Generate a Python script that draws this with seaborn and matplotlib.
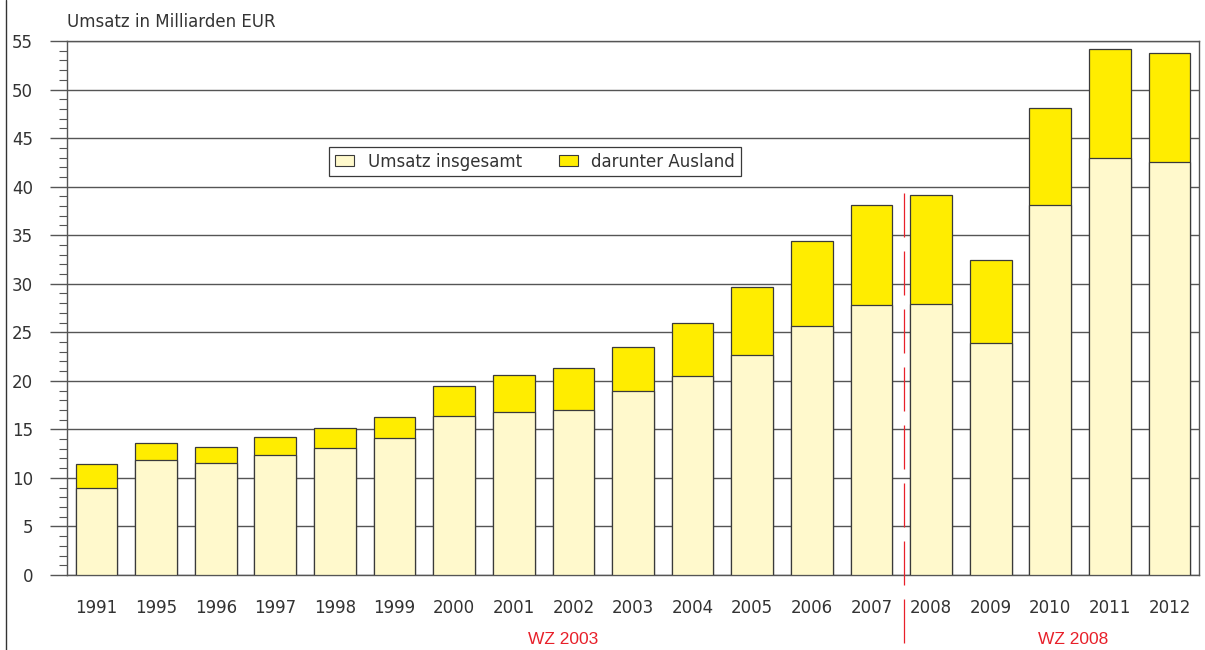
import matplotlib
matplotlib.use("Agg")
import matplotlib.pyplot as plt
from matplotlib.patches import Patch
from matplotlib.ticker import MultipleLocator
from matplotlib.lines import Line2D
import seaborn as sns
import pandas as pd

# ---- data ----
jahre = ["1991", "1995", "1996", "1997", "1998", "1999", "2000", "2001", "2002",
         "2003", "2004", "2005", "2006", "2007", "2008", "2009", "2010", "2011", "2012"]
# top of the stacked bar (light + yellow part)
bar_oben = [11.4, 13.6, 13.2, 14.2, 15.1, 16.3, 19.5, 20.6, 21.3,
            23.5, 26.0, 29.7, 34.4, 38.1, 39.1, 32.4, 48.1, 54.2, 53.8]
# top of the light segment
bar_hell = [9.0, 11.8, 11.5, 12.4, 13.1, 14.1, 16.4, 16.8, 17.0,
            18.9, 20.5, 22.7, 25.6, 27.8, 27.9, 23.9, 38.1, 42.9, 42.5]
legend_labels = ["Umsatz insgesamt", "darunter Ausland"]
y_title = "Umsatz in Milliarden EUR"
wz_labels = ["WZ 2003", "WZ 2008"]

df = pd.DataFrame({"Jahr": jahre, "oben": bar_oben, "hell": bar_hell})

HELL = "#FFF9CC"
GELB = "#FFED00"
EDGE = "#3a3a3a"
GRID = "#555555"
TXT = "#333333"
RED = "#E8202A"

sns.set_style("white")
plt.rcParams["font.family"] = ["DejaVu Sans"]

fig = plt.figure(figsize=(12.05, 6.5), dpi=100)
ax = fig.add_axes([66.7 / 1205, 1 - 575 / 650, (1199.3 - 66.7) / 1205, (575 - 41) / 650])

sns.barplot(data=df, x="Jahr", y="oben", color=GELB, saturation=1, width=0.7,
            edgecolor=EDGE, linewidth=0.9, ax=ax, zorder=3)
sns.barplot(data=df, x="Jahr", y="hell", color=HELL, saturation=1, width=0.7,
            edgecolor=EDGE, linewidth=0.9, ax=ax, zorder=4)

ax.set_xlim(-0.5, len(jahre) - 0.5)
ax.set_ylim(0, 55)
ax.yaxis.set_major_locator(MultipleLocator(5))
ax.yaxis.set_minor_locator(MultipleLocator(1))
ax.grid(axis="y", which="major", color=GRID, linewidth=1.0, zorder=0)
ax.set_axisbelow(True)

for s in ["left", "right", "top", "bottom"]:
    ax.spines[s].set_visible(True)
    ax.spines[s].set_color(GRID)
    ax.spines[s].set_linewidth(1.0)

ax.tick_params(axis="y", which="major", direction="out", length=12.2, width=1.0,
               color=GRID, pad=12, labelsize=12, labelcolor=TXT, left=True)
ax.tick_params(axis="y", which="minor", direction="out", length=5.8, width=0.8,
               color=GRID, left=True)
ax.tick_params(axis="x", length=0, pad=17, labelsize=12, labelcolor=TXT)
ax.set_xlabel("")
ax.set_ylabel("")

# title above the axis
fig.text(66.7 / 1205, 1 - 22 / 650, y_title, fontsize=12, color=TXT,
         ha="left", va="center")

# legend
handles = [Patch(facecolor=HELL, edgecolor=EDGE, linewidth=0.8, label=legend_labels[0]),
           Patch(facecolor=GELB, edgecolor=EDGE, linewidth=0.8, label=legend_labels[1])]
leg = ax.legend(handles=handles, ncol=2, loc="center",
                bbox_to_anchor=(535 / 1205, 1 - 161.5 / 650),
                bbox_transform=fig.transFigure, fontsize=12, frameon=True,
                fancybox=False, framealpha=1, edgecolor=EDGE,
                handlelength=1.15, handleheight=0.6, handletextpad=0.8,
                columnspacing=2.2, borderpad=0.35)
leg.get_frame().set_linewidth(0.9)
for t in leg.get_texts():
    t.set_color(TXT)

# red dashed separator between WZ 2003 and WZ 2008
lw = 0.9
on_pt = 44 * 0.72 / lw
off_pt = 14 * 0.72 / lw
ax.axvline(13.54, ymin=(575 - 643) / 534, ymax=(575 - 190) / 534, color=RED,
           linewidth=lw, linestyle=(0, (on_pt, off_pt)),
           clip_on=False, zorder=6)

# WZ labels
trans = ax.get_xaxis_transform()
ax.text(7.83, (575 - 639) / 534, wz_labels[0], transform=trans, color=RED,
        fontsize=12.5, family=["Liberation Sans", "DejaVu Sans"],
        ha="center", va="center")
ax.text(16.39, (575 - 639) / 534, wz_labels[1], transform=trans, color=RED,
        fontsize=12.5, family=["Liberation Sans", "DejaVu Sans"],
        ha="center", va="center")

# left frame line of the figure
fig.add_artist(Line2D([5.5 / 1205, 5.5 / 1205], [0, 1], transform=fig.transFigure,
                      color="#333333", linewidth=1.0))

fig.savefig("out.png", dpi=100)
